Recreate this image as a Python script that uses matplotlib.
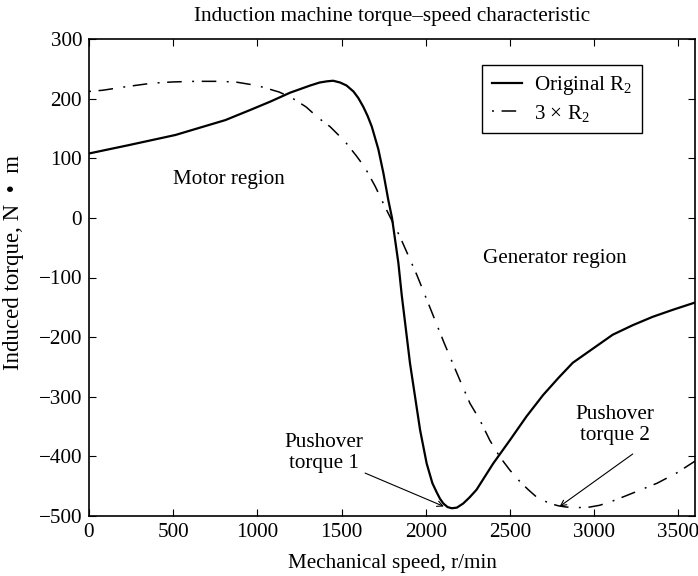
import matplotlib
matplotlib.use("Agg")
import matplotlib.pyplot as plt

plt.rcParams['font.family'] = ['Liberation Serif', 'DejaVu Serif']
plt.rcParams['mathtext.fontset'] = 'custom'
plt.rcParams['mathtext.rm'] = 'Liberation Serif'
plt.rcParams['mathtext.it'] = 'Liberation Serif:italic'
plt.rcParams['lines.scale_dashes'] = False

# Original R2 curve
speed_orig = [0, 236, 513, 810, 958, 1077, 1195, 1314, 1370, 1413, 1450, 1492, 1530,
              1571, 1600, 1630, 1655, 1680, 1719, 1749, 1778, 1800, 1838, 1858, 1883,
              1907, 1937, 1967, 2006, 2040, 2065, 2085, 2105, 2130, 2155, 2185, 2223,
              2260, 2302, 2401, 2500, 2599, 2698, 2790, 2874, 3000, 3111, 3230, 3348,
              3470, 3600]
torque_orig = [108, 122, 139, 164, 181, 195, 210, 222, 227, 229, 230, 227, 222,
               212, 201, 186, 171, 153, 115, 75, 30, 0, -76, -130, -188,
               -244, -300, -356, -412, -445, -460, -471, -479, -485, -487, -486, -479,
               -469, -456, -412, -373, -333, -297, -268, -243, -218, -196, -180, -166,
               -154, -142]

# 3 x R2 curve
speed_3r2 = [0, 80, 220, 377, 500, 632, 750, 868, 998, 1047, 1130, 1207, 1290, 1361,
             1432, 1521, 1591, 1640, 1700, 1749, 1800, 1848, 1948, 2025, 2110, 2203,
             2263, 2322, 2381, 2441, 2500, 2559, 2610, 2658, 2737, 2790, 2836, 2900,
             2975, 3034, 3100, 3173, 3270, 3375, 3490, 3600]
torque_3r2 = [212, 214, 220, 226, 228, 229, 229, 228, 222, 218, 211, 201, 186, 168,
              153, 128, 103, 84, 53, 24, -5, -32, -96, -150, -210, -272,
              -311, -339, -373, -401, -423, -442, -456, -468, -479, -483, -485, -486,
              -485, -482, -476, -468, -457, -445, -428, -408]

xticks = [0, 500, 1000, 1500, 2000, 2500, 3000, 3500]
yticks = [-500, -400, -300, -200, -100, 0, 100, 200, 300]

fs = 15.2

fig = plt.figure(figsize=(6.98, 5.76), dpi=100)
ax = fig.add_axes([89/698, 60/576, 606/698, 477/576])

ax.plot(speed_orig, torque_orig, color='black', lw=1.6, label='Original R$_2$')
ax.plot(speed_3r2, torque_3r2, color='black', lw=1.1,
        dashes=(1.4, 5.5, 10.5, 7.5), label='3 \u00d7 R$_2$')

ax.set_xlim(0, 3600)
ax.set_ylim(-500, 300)
ax.set_xticks(xticks)
ax.set_yticks(yticks)
ax.set_yticklabels([f'{v}'.replace('-', '\u2212') for v in yticks])
ax.tick_params(direction='in', top=True, right=True, length=5, width=0.8,
               labelsize=fs, pad=5)
for s in ax.spines.values():
    s.set_linewidth(1.2)

ax.set_title('Induction machine torque\u2013speed characteristic', fontsize=15.3, pad=13)
ax.set_xlabel('Mechanical speed, r/min', fontsize=fs, labelpad=9)
ax.set_ylabel('Induced torque, N  \u2022  m', fontsize=16.5)
ax.yaxis.set_label_coords(-0.107, 0.532)

ax.text(832, 64, 'Motor region', fontsize=fs, ha='center', va='center')
ax.text(2769, -68, 'Generator region', fontsize=fs, ha='center', va='center')

ax.text(1396, -395, 'Pushover\ntorque 1', fontsize=fs, ha='center', va='center',
        linespacing=1.15)
ax.text(3125, -348, 'Pushover\ntorque 2', fontsize=fs, ha='center', va='center',
        linespacing=1.15)
ax.annotate('', xy=(2108, -484), xytext=(1640, -428),
            arrowprops=dict(arrowstyle='->', color='black', lw=0.8,
                            shrinkA=0, shrinkB=0))
ax.annotate('', xy=(2796, -484), xytext=(3230, -396),
            arrowprops=dict(arrowstyle='->', color='black', lw=0.8,
                            shrinkA=0, shrinkB=0))

leg = ax.legend(loc='upper right', bbox_to_anchor=(0.9125, 0.9455),
                borderaxespad=0, fontsize=fs, fancybox=False, framealpha=1,
                edgecolor='black', handlelength=1.45, handletextpad=0.55,
                borderpad=0.45, labelspacing=0.25)
leg.get_frame().set_linewidth(1.0)

fig.savefig('out.png', dpi=100)
